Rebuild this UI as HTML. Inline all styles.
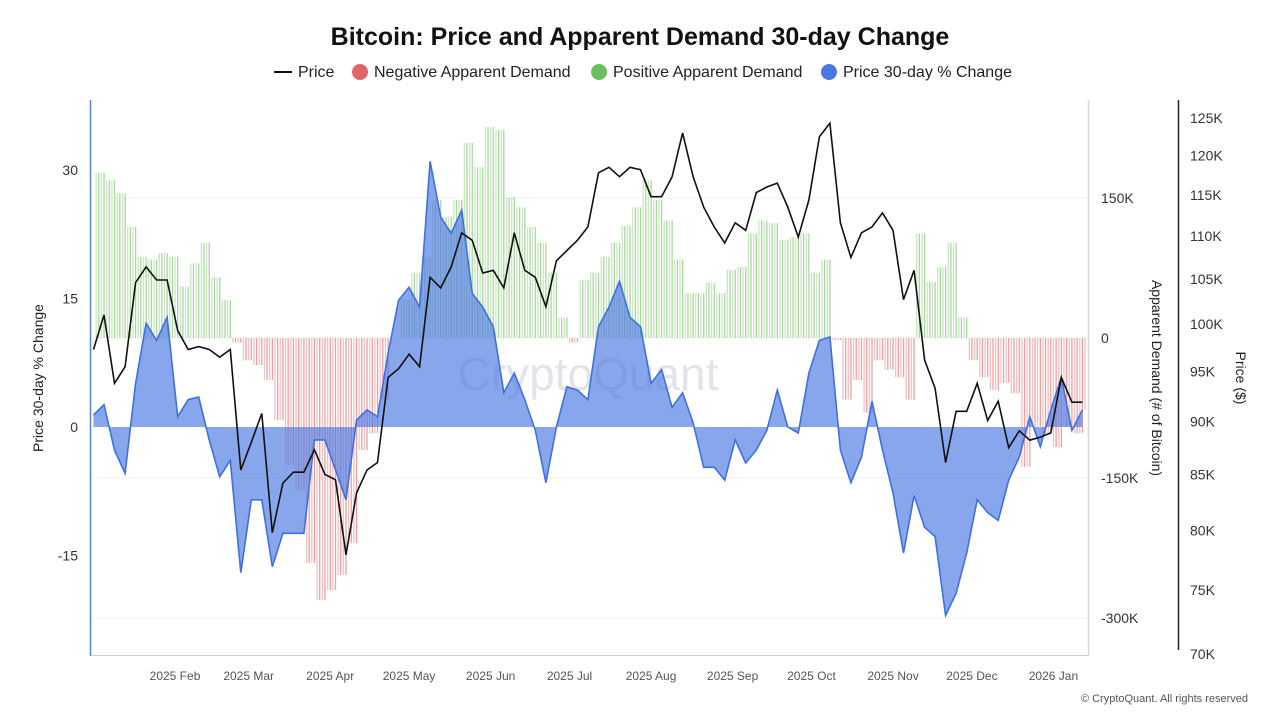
<!DOCTYPE html>
<html><head><meta charset="utf-8">
<style>
body{margin:0;background:#fff;font-family:"Liberation Sans",sans-serif;}
#wrap{position:relative;width:1280px;height:720px;overflow:hidden;}
</style></head>
<body>
<div id="wrap">
<svg id="chart" width="1280" height="720" xmlns="http://www.w3.org/2000/svg">
<text x="640" y="45" text-anchor="middle" font-size="25" font-weight="bold" fill="#111">Bitcoin: Price and Apparent Demand 30-day Change</text>
<g font-size="16" fill="#222">
 <g><line x1="274" y1="72" x2="292" y2="72" stroke="#111" stroke-width="2"/><text x="298" y="77">Price</text></g>
 <g><circle cx="360" cy="72" r="8" fill="#e06666"/><text x="374" y="77">Negative Apparent Demand</text></g>
 <g><circle cx="599" cy="72" r="8" fill="#6cbf5c"/><text x="613" y="77">Positive Apparent Demand</text></g>
 <g><circle cx="829" cy="72" r="8" fill="#4a78e0"/><text x="843" y="77">Price 30-day % Change</text></g>
</g>
<text x="588" y="390" text-anchor="middle" font-size="46" fill="#e2e4ec">CryptoQuant</text>
<g id="grid"></g>
<g id="bars"></g>
<g id="area"></g>
<g id="priceg"></g>
<g id="axes"></g>
<text x="1248" y="702" text-anchor="end" font-size="11" fill="#555">© CryptoQuant. All rights reserved</text>
</svg>
</div>
<script>
const pctChange=[1.4,2.6,-2.7,-5.4,5.1,12.1,10.1,12.8,1.2,3.2,3.5,-1.5,-5.8,-3.9,-17,-8.5,-8.5,-16.3,-12.4,-12.4,-12.4,-1.5,-1.5,-5.0,-8.5,0.8,2.0,1.2,8.6,14.8,16.3,14.0,31,24.5,22.6,25.3,15.6,14.0,11.7,4.0,6.3,3.2,-0.4,-6.5,0,4.7,4.3,3.2,11.7,14.0,17,12.8,11.7,5.1,6.7,2.3,4.0,0.5,-4.7,-4.7,-6.2,-1.5,-4.2,-2.7,-0.4,4.3,0,-0.7,6.3,10.1,10.5,-2.7,-6.5,-3.5,3,-2.7,-7.7,-14.7,-8,-11.7,-12.8,-22,-19.4,-14.7,-8.5,-10.0,-10.9,-6.2,-3.5,1.2,-2.3,2.0,5.8,-0.4,2.0];
const demandK=[177,169,155,119,87,84,91,87,55,80,102,65,41,-5,-24,-29,-45,-88,-136,-163,-241,-281,-270,-254,-220,-120,-102,-66,0,41,70,87,148,130,148,209,183,226,223,151,140,119,102,70,22,-5,62,70,87,102,120,140,169,148,126,84,48,48,59,48,73,76,112,126,123,105,108,112,70,84,-2,-66,-45,-80,-24,-34,-42,-66,112,60,76,102,22,-24,-42,-56,-48,-59,-138,-95,-102,-117,-95,-102,-77];
const priceK=[97.3,101,93.8,95.5,104.6,106.4,104.9,104.9,99.3,97.3,97.6,97.3,96.5,97.3,85.4,88,90.8,79.8,84.2,85.2,85.2,87.3,85.0,84.5,77.9,83.3,85.4,86.1,94.4,95.3,96.8,95.5,105.2,104.0,106.4,110.4,109.5,105.7,106.0,104.0,110.4,106.0,105.2,101.9,107.1,108.3,109.5,111.1,117.8,118.5,117.3,118.5,118.2,114.8,114.8,117.3,123.0,117.3,113.5,111.1,109.2,111.6,110.7,115.3,116.0,116.5,113.5,109.9,114.4,122.5,124.3,111.6,107.5,110.4,111.1,112.8,110.7,102.7,106.0,96.2,93.3,86.1,91.0,91.0,93.8,90.1,92.0,87.5,89.1,88.2,88.5,88.9,94.4,91.9,91.9];
const stepDays=4;
const monthLabels=["2025 Feb","2025 Mar","2025 Apr","2025 May","2025 Jun","2025 Jul","2025 Aug","2025 Sep","2025 Oct","2025 Nov","2025 Dec","2026 Jan"];
const monthDays=[31,59,90,120,151,181,212,243,273,304,334,365];
const pctTicks=[30,15,0,-15];
const demandTicks=[150,0,-150,-300];
const priceTicks=[125,120,115,110,105,100,95,90,85,80,75,70];

const NS="http://www.w3.org/2000/svg";
function mk(tag,attrs,parent){const e=document.createElementNS(NS,tag);for(const k in attrs)e.setAttribute(k,attrs[k]);parent.appendChild(e);return e;}
const xDay=d=>93.5+2.63*d;
const yPct=v=>427-v*8.57;
const yDem=v=>338-v*0.9333;
const yPrice=v=>118+924*Math.log(125/v);

const grid=document.getElementById('grid');
demandTicks.forEach(t=>{const l=mk('line',{x1:92,x2:1088,y1:yDem(t),y2:yDem(t),stroke:'#f0f0f0','stroke-width':1},grid);

});

const bars=document.getElementById('bars');
demandK.forEach((v,i)=>{
 for(let s=0;s<4;s++){
  const x=xDay(i*stepDays+s)+2;
  if(x>1086)continue;
  const pos=v>=0;
  const col=pos?(s%2?'#a9d9a0':'#c9e8c2'):(s%2?'#eea0a0':'#f4c2c2');
  const r=mk('rect',{x:x,y:Math.min(yDem(v),yDem(0)),width:1.3,height:Math.abs(yDem(v)-yDem(0)),fill:col},bars);
  
  
 }
});

const area=document.getElementById('area');
let pts=pctChange.map((v,i)=>xDay(i*stepDays).toFixed(1)+','+yPct(v).toFixed(1));
const xs=xDay(0),xe=xDay((pctChange.length-1)*stepDays);
const ap=mk('path',{d:'M'+xs+','+yPct(0)+' L'+pts.join(' L')+' L'+xe+','+yPct(0)+'Z',fill:'#4a78e0','fill-opacity':0.66},area);


const al=mk('polyline',{points:pts.join(' '),fill:'none',stroke:'#3f6fe3','stroke-width':1.6},area);



const pg=document.getElementById('priceg');
const pl=mk('polyline',{points:priceK.map((v,i)=>xDay(i*stepDays).toFixed(1)+','+yPrice(v).toFixed(1)).join(' '),fill:'none',stroke:'#111','stroke-width':1.6},pg);



const ax=document.getElementById('axes');
let e;
e=mk('line',{x1:90.5,x2:90.5,y1:100,y2:656,stroke:'#5b82e0','stroke-width':1.5},ax);

e=mk('line',{x1:92,x2:1088,y1:655.5,y2:655.5,stroke:'#ccc','stroke-width':1},ax);

e=mk('line',{x1:1088.5,x2:1088.5,y1:100,y2:656,stroke:'#d8d8d8','stroke-width':1.5},ax);

e=mk('line',{x1:1178.5,x2:1178.5,y1:100,y2:650,stroke:'#222','stroke-width':1.5},ax);

pctTicks.forEach(t=>{const tx=mk('text',{x:78,y:yPct(t)+5,'text-anchor':'end','font-size':14,fill:'#333'},ax);tx.textContent=t;
});
demandTicks.forEach(t=>{const tx=mk('text',{x:1101,y:yDem(t)+5,'font-size':14,fill:'#333'},ax);tx.textContent=t===0?'0':t+'K';
});
priceTicks.forEach(t=>{const tx=mk('text',{x:1190,y:yPrice(t)+5,'font-size':14,fill:'#333'},ax);tx.textContent=t+'K';
});
monthLabels.forEach((m,i)=>{const tx=mk('text',{x:xDay(monthDays[i]),y:680,'text-anchor':'middle','font-size':12,fill:'#555'},ax);tx.textContent=m;
});
e=mk('text',{transform:'translate(43,378) rotate(-90)','text-anchor':'middle','font-size':14,fill:'#222'},ax);e.textContent='Price 30-day % Change';

e=mk('text',{transform:'translate(1152,378) rotate(90)','text-anchor':'middle','font-size':14,fill:'#222'},ax);e.textContent='Apparent Demand (# of Bitcoin)';

e=mk('text',{transform:'translate(1236,378) rotate(90)','text-anchor':'middle','font-size':14,fill:'#222'},ax);e.textContent='Price ($)';

</script>
</body></html>
